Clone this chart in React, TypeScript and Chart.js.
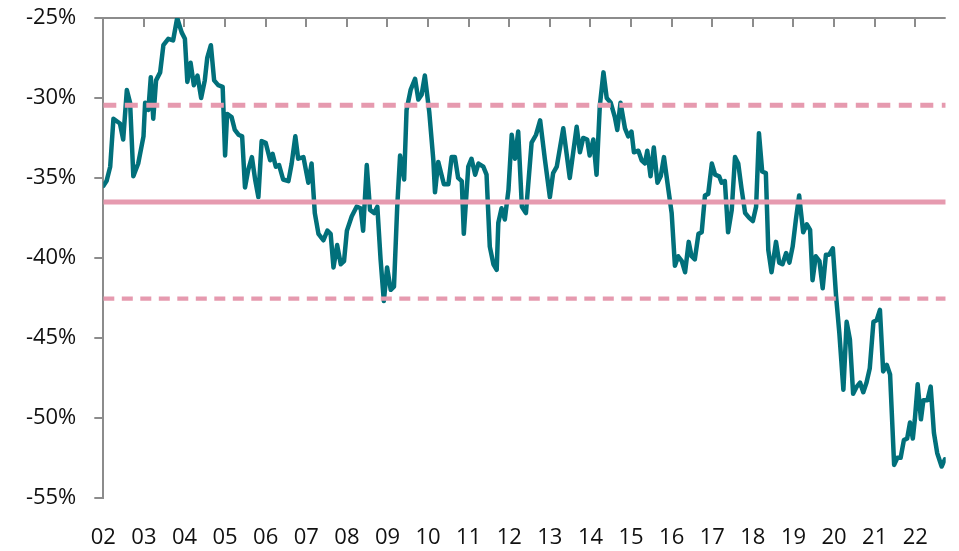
import { useEffect, useRef } from "react";
import { Chart, registerables } from "chart.js";

Chart.register(...registerables);

// ---- axis definitions ----
const yearTicks = [2002, 2003, 2004, 2005, 2006, 2007, 2008, 2009, 2010, 2011, 2012, 2013, 2014, 2015, 2016, 2017, 2018, 2019, 2020, 2021, 2022];
const yearLabels = ["02", "03", "04", "05", "06", "07", "08", "09", "10", "11", "12", "13", "14", "15", "16", "17", "18", "19", "20", "21", "22"];
const axisStart = 2002;
const axisEnd = 2022.75;
const yMin = -55;
const yMax = -25;
const yStep = 5;

// ---- reference levels ----
const meanLevel = -36.5;
const upperBand = -30.45;
const lowerBand = -42.55;

// ---- observations (decimal year, %) ----
const obsDates = [
  2002.00, 2002.08, 2002.17, 2002.25, 2002.41, 2002.49, 2002.58, 2002.66, 2002.74, 2002.86, 2002.99,
  2003.03, 2003.11, 2003.17, 2003.23, 2003.30, 2003.40, 2003.48, 2003.60, 2003.72, 2003.82, 2003.93,
  2004.01, 2004.07, 2004.15, 2004.23, 2004.32, 2004.41, 2004.50, 2004.56, 2004.65, 2004.73, 2004.83, 2004.94,
  2005.00, 2005.05, 2005.16, 2005.24, 2005.33, 2005.42, 2005.49, 2005.57, 2005.66, 2005.74, 2005.82, 2005.90,
  2006.00, 2006.11, 2006.17, 2006.25, 2006.33, 2006.43, 2006.56, 2006.64, 2006.73, 2006.80, 2006.93,
  2007.05, 2007.13, 2007.21, 2007.30, 2007.42, 2007.52, 2007.60, 2007.67, 2007.76, 2007.85, 2007.93,
  2008.00, 2008.12, 2008.24, 2008.34, 2008.40, 2008.49, 2008.57, 2008.67, 2008.75, 2008.83, 2008.91, 2008.99,
  2009.08, 2009.16, 2009.24, 2009.31, 2009.41, 2009.47, 2009.57, 2009.68, 2009.76, 2009.84, 2009.92,
  2010.03, 2010.13, 2010.17, 2010.25, 2010.39, 2010.50, 2010.58, 2010.66, 2010.74, 2010.83, 2010.88, 2010.99,
  2011.07, 2011.16, 2011.24, 2011.36, 2011.44, 2011.52, 2011.61, 2011.69, 2011.73, 2011.81, 2011.89, 2011.98,
  2012.06, 2012.14, 2012.22, 2012.31, 2012.41, 2012.55, 2012.66, 2012.76, 2012.88,
  2013.00, 2013.08, 2013.17, 2013.33, 2013.49, 2013.66, 2013.74, 2013.82, 2013.92, 2013.98,
  2014.07, 2014.15, 2014.23, 2014.32, 2014.40, 2014.50, 2014.60, 2014.66, 2014.74, 2014.85, 2014.93,
  2015.01, 2015.07, 2015.18, 2015.26, 2015.34, 2015.40, 2015.48, 2015.56, 2015.65, 2015.73, 2015.81, 2015.92,
  2016.00, 2016.08, 2016.16, 2016.25, 2016.33, 2016.42, 2016.49, 2016.57, 2016.66, 2016.74, 2016.82, 2016.90, 2016.99,
  2017.07, 2017.17, 2017.23, 2017.31, 2017.39, 2017.48, 2017.56, 2017.64, 2017.72, 2017.81, 2017.91,
  2018.00, 2018.08, 2018.15, 2018.23, 2018.32, 2018.38, 2018.46, 2018.57, 2018.65, 2018.73, 2018.82, 2018.90, 2018.98,
  2019.06, 2019.14, 2019.24, 2019.33, 2019.41, 2019.47, 2019.55, 2019.64, 2019.72, 2019.80, 2019.88, 2019.97,
  2020.05, 2020.13, 2020.23, 2020.31, 2020.39, 2020.47, 2020.56, 2020.64, 2020.72, 2020.80, 2020.88, 2020.97,
  2021.05, 2021.13, 2021.21, 2021.30, 2021.38, 2021.48, 2021.56, 2021.64, 2021.72, 2021.80, 2021.87, 2021.94, 2021.99,
  2022.06, 2022.14, 2022.20, 2022.30, 2022.38, 2022.46, 2022.54, 2022.65, 2022.73,
];

const obsValues = [
  -35.5, -35.2, -34.3, -31.3, -31.6, -32.6, -29.5, -30.3, -34.9, -34.1, -32.4,
  -30.3, -30.75, -28.7, -31.3, -28.9, -28.4, -26.7, -26.3, -26.4, -25.0, -25.9,
  -26.3, -29.0, -27.8, -29.2, -28.6, -30.0, -28.9, -27.5, -26.7, -28.9, -29.2, -29.3,
  -33.6, -31.0, -31.2, -32.0, -32.3, -32.4, -35.6, -34.5, -33.7, -35.1, -36.2, -32.7,
  -32.8, -33.9, -33.5, -34.3, -34.2, -35.1, -35.2, -34.1, -32.4, -33.8, -33.7,
  -35.3, -34.1, -37.2, -38.5, -38.9, -38.3, -38.5, -40.6, -39.2, -40.4, -40.2,
  -38.3, -37.4, -36.8, -36.9, -38.3, -34.2, -37.0, -37.2, -36.8, -40.1, -42.7, -40.6,
  -42.0, -41.8, -36.8, -33.6, -35.1, -30.75, -29.5, -28.8, -30.1, -29.8, -28.6,
  -30.9, -33.9, -35.9, -34.0, -35.4, -35.4, -33.7, -33.7, -35.0, -35.2, -38.5, -34.3,
  -33.8, -34.8, -34.1, -34.3, -34.8, -39.3, -40.4, -40.75, -37.8, -36.9, -37.6, -35.75,
  -32.3, -33.8, -32.1, -36.8, -37.2, -32.8, -32.3, -31.4, -33.9,
  -36.2, -34.7, -34.3, -31.9, -35.0, -31.8, -33.4, -32.5, -32.6, -33.6,
  -32.6, -34.8, -30.5, -28.4, -30.0, -30.3, -31.2, -32.0, -30.3, -31.9, -32.4,
  -32.1, -33.4, -33.3, -33.9, -34.1, -33.3, -34.9, -33.1, -35.3, -34.9, -33.7, -35.75,
  -37.2, -40.5, -39.9, -40.2, -40.9, -39.0, -39.9, -40.1, -38.5, -38.4, -36.1, -36.0, -34.1,
  -34.8, -34.9, -35.3, -35.2, -38.4, -37.0, -33.7, -34.1, -35.65, -37.2, -37.5,
  -37.7, -36.8, -32.2, -34.6, -34.7, -39.5, -40.9, -39.0, -40.3, -40.4, -39.7, -40.3, -39.3,
  -37.6, -36.1, -38.4, -37.9, -38.25, -41.4, -39.9, -40.2, -41.9, -39.8, -39.8, -39.4,
  -42.4, -44.7, -48.25, -44.0, -45.1, -48.5, -48.05, -47.8, -48.4, -47.8, -46.9, -44.0,
  -43.9, -43.25, -47.1, -46.7, -47.3, -52.95, -52.5, -52.5, -51.4, -51.3, -50.3, -51.3, -50.1,
  -47.9, -50.1, -48.9, -48.9, -48.05, -50.95, -52.2, -53.05, -52.6,
];

// ---- styles ----
const TEAL = "#01707B";
const PINK = "#E69AAF";
const AXIS_GRAY = "#8C8C8C";
const FONT_FAMILY = "'Open Sans', 'Liberation Sans', sans-serif";

const topAxisPlugin = {
  id: "topAxis",
  beforeDatasetsDraw(chart: any) {
    const { ctx, chartArea, scales } = chart;
    const xs = scales.x;
    ctx.save();
    ctx.strokeStyle = AXIS_GRAY;
    ctx.lineWidth = 2;
    ctx.beginPath();
    ctx.moveTo(chartArea.left, chartArea.top);
    ctx.lineTo(chartArea.right, chartArea.top);
    ctx.stroke();
    ctx.beginPath();
    for (const yr of yearTicks) {
      const px = Math.round(xs.getPixelForValue(yr));
      ctx.moveTo(px, chartArea.top);
      ctx.lineTo(px, chartArea.top + 9);
    }
    ctx.stroke();
    ctx.restore();
  },
};

export default function App() {
  const canvasRef = useRef<HTMLCanvasElement | null>(null);

  useEffect(() => {
    if (!canvasRef.current) return;
    const series = obsDates.map((d, i) => ({ x: d, y: obsValues[i] }));
    const level = (v: number) => [
      { x: axisStart, y: v },
      { x: axisEnd, y: v },
    ];

    const chart = new Chart(canvasRef.current, {
      type: "line",
      data: {
        datasets: [
          {
            data: level(meanLevel),
            borderColor: PINK,
            borderWidth: 5,
            pointRadius: 0,
            order: 0,
          },
          {
            data: level(upperBand),
            borderColor: PINK,
            borderWidth: 5,
            borderDash: [13, 8.5],
            pointRadius: 0,
            order: 0,
          },
          {
            data: level(lowerBand),
            borderColor: PINK,
            borderWidth: 4.2,
            borderDash: [11, 7.5],
            pointRadius: 0,
            order: 0,
          },
          {
            data: series,
            borderColor: TEAL,
            borderWidth: 4.5,
            pointRadius: 0,
            tension: 0,
            borderJoinStyle: "round",
            borderCapStyle: "round",
            order: 1,
          },
        ],
      },
      options: {
        animation: false,
        responsive: true,
        maintainAspectRatio: false,
        parsing: false,
        normalized: true,
        layout: { padding: { top: 18, right: 13.3, left: 0, bottom: 0 } },
        plugins: {
          legend: { display: false },
          tooltip: { enabled: false },
        },
        scales: {
          x: {
            type: "linear",
            position: "bottom",
            min: axisStart,
            max: axisEnd,
            afterBuildTicks: (scale: any) => {
              scale.ticks = yearTicks.map((v) => ({ value: v }));
            },
            afterFit: (scale: any) => {
              scale.height = 53.3;
              scale.paddingLeft = 0;
              scale.paddingRight = 0;
            },
            border: { display: false },
            grid: { display: false, drawTicks: false },
            ticks: {
              autoSkip: false,
              maxRotation: 0,
              padding: 27,
              color: "#111",
              font: { family: FONT_FAMILY, size: 22 },
              callback: (v: any) => {
                const idx = yearTicks.indexOf(Number(v));
                return idx >= 0 ? yearLabels[idx] : "";
              },
            },
          },
          y: {
            type: "linear",
            min: yMin,
            max: yMax,
            afterFit: (scale: any) => {
              scale.width = 103.3;
              scale.paddingTop = 0;
              scale.paddingBottom = 0;
            },
            border: { display: true, color: AXIS_GRAY, width: 2 },
            grid: {
              drawOnChartArea: false,
              drawTicks: true,
              tickLength: 9,
              color: AXIS_GRAY,
              lineWidth: 2,
            },
            ticks: {
              stepSize: yStep,
              padding: 18,
              color: "#111",
              font: { family: FONT_FAMILY, size: 22 },
              callback: (v: any) => `${v}%`,
            },
          },
        },
      },
      plugins: [topAxisPlugin],
    });

    return () => chart.destroy();
  }, []);

  return (
    <div style={{ position: "absolute", left: 0, top: 0, width: 959, height: 551 }}>
      <canvas ref={canvasRef} />
    </div>
  );
}
